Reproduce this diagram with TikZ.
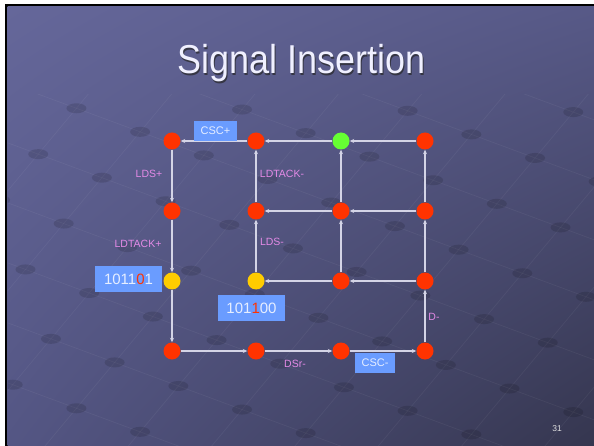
\documentclass[tikz,border=0pt]{standalone}
\usepackage{fontspec}
\usepackage{graphicx}
\setmainfont{Liberation Sans}
\usetikzlibrary{arrows.meta,shadings}

\definecolor{bgTL}{HTML}{65679A}
\definecolor{bgTR}{HTML}{575987}
\definecolor{bgBL}{HTML}{545684}
\definecolor{bgBR}{HTML}{35364F}
\definecolor{stred}{HTML}{FF3300}
\definecolor{stgreen}{HTML}{66FF33}
\definecolor{styellow}{HTML}{FFCC00}
\definecolor{edgecol}{HTML}{D4D4E6}
\definecolor{lblpink}{HTML}{E38AE6}
\definecolor{boxblue}{HTML}{6A9CFF}
\definecolor{boxtext}{HTML}{E6EEFF}
\definecolor{digitred}{HTML}{FF3300}

\tikzset{
  state/.style={circle, minimum size=17bp, inner sep=0pt, fill=#1},
  trans/.style={draw=edgecol, line width=1.2bp, -{Stealth[length=4.5bp,width=4bp]}},
  lbl/.style={text=lblpink, font=\fontsize{10.5bp}{12bp}\selectfont, inner sep=0pt},
  codebox/.style={fill=boxblue, text=boxtext, inner sep=0pt,
    font=\fontsize{15bp}{17bp}\selectfont},
  sigbox/.style={fill=boxblue, text=boxtext, inner sep=0pt,
    font=\fontsize{11bp}{13bp}\selectfont},
  titlefont/.style={font=\fontsize{36bp}{40bp}\selectfont, inner sep=0pt, anchor=base},
}

\begin{document}
\begin{tikzpicture}[x=1bp,y=-1bp]
  \useasboundingbox (0,0) rectangle (594,446);
  % page margin and frame
  \fill[white] (0,0) rectangle (594,446);
  \fill[black] (5,4) rectangle (594,446);
  \shade[upper left=bgTL, upper right=bgTR, lower left=bgBL, lower right=bgBR]
    (7.5,7) rectangle (594,446);

  % faint floor pattern of lines and discs, kept below the title
  \begin{scope}
    \clip (7.5,95) rectangle (594,446);
    \foreach \a in {-100,-40,20,80,140,200,260,320,380} {
      \draw[white, opacity=0.05, line width=0.7bp] (0,\a) -- (594,{\a+0.37*594});
    }
    \foreach \b in {200,300,400,500,600,700,800,900,1000,1100} {
      \draw[white, opacity=0.05, line width=0.7bp] (0,\b) -- ({\b/1.2},0);
    }
    \foreach \a in {-100,-40,20,80,140,200,260,320,380} {
      \foreach \b in {200,300,400,500,600,700,800,900,1000,1100} {
        \pgfmathsetmacro{\xx}{(\b-\a)/1.57}
        \pgfmathsetmacro{\yy}{\a+0.37*\xx}
        \fill[black, opacity=0.13] (\xx,\yy) ellipse [x radius=10, y radius=5];
      }
    }
  \end{scope}

  % title with drop shadow
  \node[titlefont, text=black!85, opacity=0.7] at (303,75.5)
    {\scalebox{1}[1.12]{Signal Insertion}};
  \node (title) [titlefont, text=white!94!blue] at (301.5,74)
    {\scalebox{1}[1.12]{Signal Insertion}};

  % states of the state graph
  \node[state=stred]    (n11) at (172,141) {};
  \node[state=stred]    (n12) at (256,141) {};
  \node[state=stgreen]  (n13) at (341,141) {};
  \node[state=stred]    (n14) at (425,141) {};
  \node[state=stred]    (n21) at (172,211) {};
  \node[state=stred]    (n22) at (256,211) {};
  \node[state=stred]    (n23) at (341,211) {};
  \node[state=stred]    (n24) at (425,211) {};
  \node[state=styellow] (n31) at (172,281) {};
  \node[state=styellow] (n32) at (256,281) {};
  \node[state=stred]    (n33) at (341,281) {};
  \node[state=stred]    (n34) at (425,281) {};
  \node[state=stred]    (n41) at (172,351) {};
  \node[state=stred]    (n42) at (256,351) {};
  \node[state=stred]    (n43) at (341,351) {};
  \node[state=stred]    (n44) at (425,351) {};

  % transitions
  \draw[trans] (n12) -- (n11);
  \draw[trans] (n13) -- (n12);
  \draw[trans] (n14) -- (n13);
  \draw[trans] (n23) -- (n22);
  \draw[trans] (n24) -- (n23);
  \draw[trans] (n33) -- (n32);
  \draw[trans] (n34) -- (n33);
  \draw[trans] (n41) -- (n42);
  \draw[trans] (n42) -- (n43);
  \draw[trans] (n43) -- (n44);
  \draw[trans] (n11) -- (n21);
  \draw[trans] (n21) -- (n31);
  \draw[trans] (n31) -- (n41);
  \draw[trans] (n22) -- (n12);
  \draw[trans] (n32) -- (n22);
  \draw[trans] (n23) -- (n13);
  \draw[trans] (n33) -- (n23);
  \draw[trans] (n24) -- (n14);
  \draw[trans] (n34) -- (n24);
  \draw[trans] (n44) -- (n34);

  % transition labels
  \node[lbl] (lLDSp)  at (149,174) {LDS+};
  \node[lbl] (lLDTm)  at (282,174) {LDTACK-};
  \node[lbl] (lLDTp)  at (138,244) {LDTACK+};
  \node[lbl] (lLDSm)  at (272,242) {LDS-};
  \node[lbl] (lDm)    at (434,317) {D-};
  \node[lbl] (lDSrm)  at (295,364) {DSr-};
  \node[sigbox, minimum width=43bp, minimum height=20bp] (cscp) at (215.5,131) {CSC+};
  \node[sigbox, minimum width=40bp, minimum height=20bp] (cscm) at (375,363) {CSC-};

  % state codes
  \node[codebox, minimum width=67bp, minimum height=26bp] (c1) at (128.5,279)
    {1011\textcolor{digitred}{0}1};
  \node[codebox, minimum width=67bp, minimum height=26bp] (c2) at (251.5,308)
    {101\textcolor{digitred}{1}00};

  % page number
  \node[text=white!88!black, font=\fontsize{8.5bp}{10bp}\selectfont] (pg) at (557,429) {31};
\end{tikzpicture}
\end{document}
